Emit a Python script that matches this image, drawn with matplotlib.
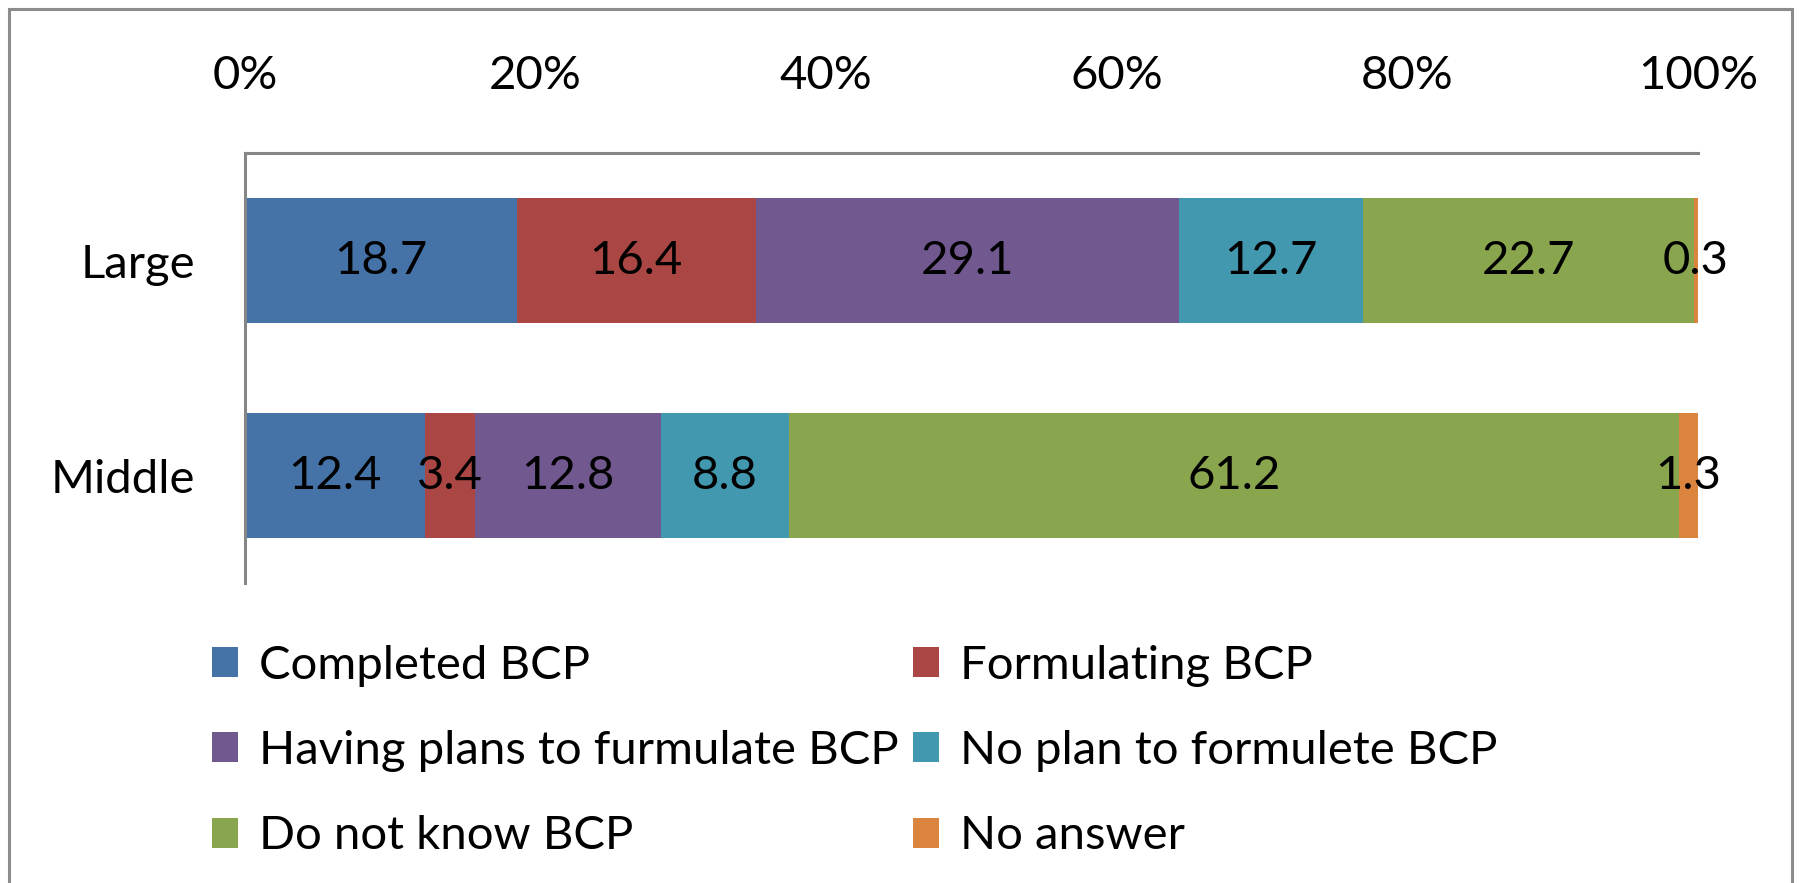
import matplotlib
matplotlib.use("Agg")
import matplotlib.pyplot as plt
import matplotlib.font_manager as fm
from matplotlib.patches import Rectangle, Patch
import numpy as np

categories = ["Large", "Middle"]
series_names = ["Completed BCP", "Formulating BCP", "Having plans to furmulate BCP",
                "No plan to formulete BCP", "Do not know BCP", "No answer"]
values = {
    "Completed BCP": [18.7, 12.4],
    "Formulating BCP": [16.4, 3.4],
    "Having plans to furmulate BCP": [29.1, 12.8],
    "No plan to formulete BCP": [12.7, 8.8],
    "Do not know BCP": [22.7, 61.2],
    "No answer": [0.3, 1.3],
}
colors = ["#4572A7", "#AA4643", "#71588F", "#4198AF", "#89A54E", "#DB843D"]
xticks = [0, 20, 40, 60, 80, 100]
xtick_labels = ["0%", "20%", "40%", "60%", "80%", "100%"]

names = {f.name for f in fm.fontManager.ttflist}
if "Liberation Sans Narrow" in names:
    FONT, FS = "Liberation Sans Narrow", 40
else:
    FONT, FS = "Lato", 34
plt.rcParams["font.family"] = [FONT, "DejaVu Sans"]

W, H = 1801, 883
fig = plt.figure(figsize=(W / 100, H / 100), dpi=100)
fig.patches.append(Rectangle((9 / W, -0.02), (1792 - 9) / W, 1.02 - 9 / H,
                             transform=fig.transFigure, fill=False,
                             edgecolor="#8c8c8c", linewidth=2.2, zorder=0))

ax = fig.add_axes([245 / W, 1 - 583 / H, (1698 - 245) / W, (583 - 153) / H])

data = np.array([values[n] for n in series_names])
totals = data.sum(axis=0)
pct = data / totals * 100
y = np.arange(len(categories))
left = np.zeros(len(categories))
for i, n in enumerate(series_names):
    bars = ax.barh(y, pct[i], left=left, height=0.58, color=colors[i], label=n)
    for j, b in enumerate(bars):
        ax.text(left[j] + pct[i][j] / 2, y[j], f"{data[i][j]:.1f}",
                ha="center", va="center", fontsize=FS, color="black")
    left += pct[i]

ax.set_xlim(0, 100)
ax.set_ylim(1.5, -0.5)
ax.xaxis.tick_top()
ax.set_xticks(xticks)
ax.set_xticklabels(xtick_labels, fontsize=FS)
ax.set_yticks(y)
ax.set_yticklabels(categories, fontsize=FS)
ax.tick_params(axis="x", length=0, pad=40)
ax.tick_params(axis="y", length=0, pad=36)
for s in ["bottom", "right"]:
    ax.spines[s].set_visible(False)
for s in ["top", "left"]:
    ax.spines[s].set_color("#868686")
    ax.spines[s].set_linewidth(2.2)

# legend filled row by row, as in the reference
order = [0, 2, 4, 1, 3, 5]
handles = [Patch(facecolor=colors[k], edgecolor="none") for k in order]
labels = [series_names[k] for k in order]
fig.legend(handles, labels, loc="center", ncol=2,
           bbox_to_anchor=(0.4745, 1 - 751 / H), bbox_transform=fig.transFigure,
           frameon=False, fontsize=FS, handlelength=0.55, handleheight=0.6,
           handletextpad=0.45, columnspacing=0.3, labelspacing=0.92, borderpad=0)

fig.savefig("out.png", dpi=100)
